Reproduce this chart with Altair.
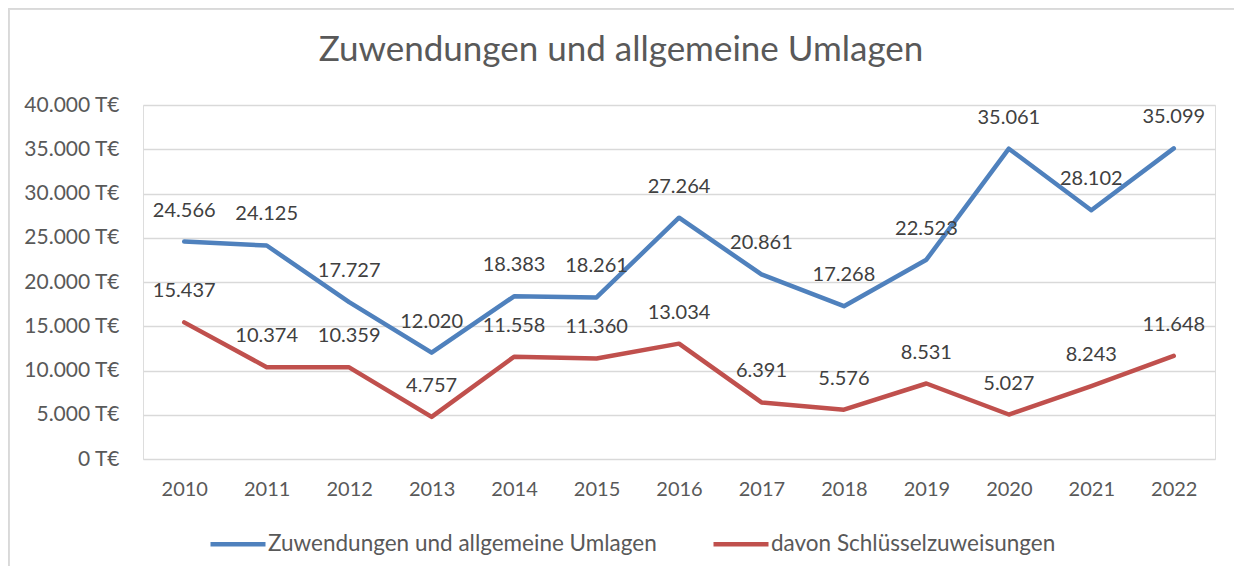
import altair as alt
import pandas as pd

years = ["2010", "2011", "2012", "2013", "2014", "2015", "2016",
         "2017", "2018", "2019", "2020", "2021", "2022"]
zuwendungen = [24566, 24125, 17727, 12020, 18383, 18261, 27264,
               20861, 17268, 22523, 35061, 28102, 35099]
schluessel = [15437, 10374, 10359, 4757, 11558, 11360, 13034,
              6391, 5576, 8531, 5027, 8243, 11648]
series_names = ["Zuwendungen und allgemeine Umlagen", "davon Schlüsselzuweisungen"]
series_colors = ["#4F81BD", "#C0504D"]
y_ticks = [0, 5000, 10000, 15000, 20000, 25000, 30000, 35000, 40000]

rows = []
for i, y in enumerate(years):
    rows.append({"Jahr": y, "Reihe": series_names[0], "Wert": zuwendungen[i], "o": 0})
    rows.append({"Jahr": y, "Reihe": series_names[1], "Wert": schluessel[i], "o": 1})
df = pd.DataFrame(rows)

FONT = "Lato"
W, H = 1072, 354

x_enc = alt.X("Jahr:N", sort=years,
              scale=alt.Scale(type="point", padding=0.5),
              axis=alt.Axis(title=None, labelAngle=0, ticks=False, domain=False,
                            grid=False, labelPadding=20, labelFontSize=20,
                            labelColor="#595959", labelFont=FONT))
y_enc = alt.Y("Wert:Q", scale=alt.Scale(domain=[0, 40000], nice=False),
              axis=alt.Axis(title=None, values=y_ticks, ticks=False, domain=False,
                            labelPadding=24, labelFontSize=21, labelColor="#595959",
                            labelFont=FONT, gridColor="#D9D9D9", gridWidth=1.3,
                            labelExpr="replace(format(datum.value, ','), ',', '.') + ' T€'"))

lines = alt.Chart(df).mark_line(strokeWidth=4.5, strokeJoin="round", strokeCap="round").encode(
    x=x_enc, y=y_enc,
    color=alt.Color("Reihe:N",
                    scale=alt.Scale(domain=series_names, range=series_colors),
                    legend=alt.Legend(title=None, orient="none", direction="horizontal",
                                      legendX=65, legendY=409,
                                      symbolType="stroke", symbolSize=3025,
                                      symbolStrokeWidth=4.5, labelOffset=0,
                                      columnPadding=47, labelFontSize=22.5,
                                      labelColor="#595959", labelFont=FONT,
                                      labelLimit=600, padding=0)),
    detail="Reihe:N",
    order="o:Q",
)

labels = alt.Chart(df).mark_text(fontSize=20, font=FONT, color="#404040",
                                 baseline="alphabetic", align="center", dy=-25).encode(
    x=alt.X("Jahr:N", sort=years, scale=alt.Scale(type="point", padding=0.5)),
    y=alt.Y("Wert:Q", scale=alt.Scale(domain=[0, 40000], nice=False)),
    text=alt.Text("lbl:N"),
).transform_calculate(lbl="replace(format(datum.Wert, ','), ',', '.')")

frame_left = alt.Chart(df).mark_rule(color="#D9D9D9", strokeWidth=1.5).encode(
    x=alt.value(-134.5), y=alt.value(-96.5), y2=alt.value(470))
frame_top = alt.Chart(df).mark_rule(color="#D9D9D9", strokeWidth=1.5).encode(
    x=alt.value(-134.5), x2=alt.value(1100), y=alt.value(-96.5))

chart = alt.layer(frame_left, frame_top, lines, labels).properties(
    width=W, height=H,
    autosize=alt.AutoSizeParams(type="none"),
    padding={"left": 135, "top": 97, "right": 19, "bottom": 107},
    title=alt.TitleParams("Zuwendungen und allgemeine Umlagen", font=FONT, fontSize=35,
                          fontWeight="normal", color="#595959", frame="group",
                          anchor="middle", dx=-58, offset=-60),
).configure_view(stroke=None).configure(background="white")

chart.save("out.html", embed_options={"renderer": "svg", "actions": False})
